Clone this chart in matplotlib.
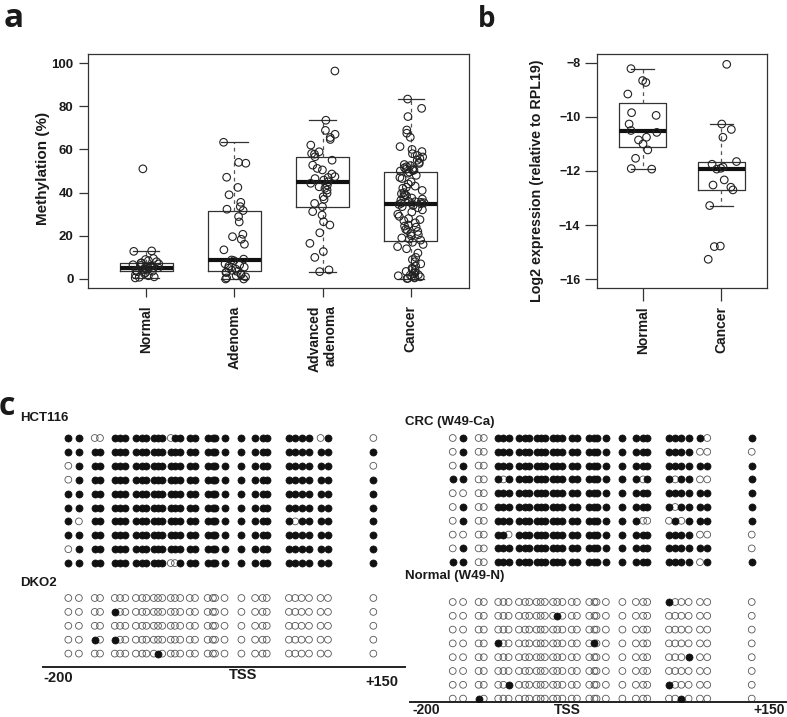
import numpy as np
import matplotlib.pyplot as plt

# ----------------------------
# Data
# ----------------------------
# a) methylation (%) by group
CAT_A = ["Normal", "Adenoma", "Advanced\nadenoma", "Cancer"]
normal_a = [0.5, 0.8, 1.0, 1.5, 2.0, 2.5, 3.0, 3.4, 3.6, 4.0, 4.2, 4.5, 4.8, 5.0, 5.1, 5.2,
            5.5, 5.8, 6.0, 6.3, 6.6, 7.0, 7.3, 7.5, 8.0, 8.5, 9.0, 9.5, 12.8, 13.0, 51.0]
adenoma_a = [63.3, 54.0, 53.6, 47.1, 42.4, 39.0, 35.5, 33.5, 32.3, 31.7, 28.9, 26.4, 20.7,
             19.6, 18.4, 16.1, 13.5, 9.2, 8.8, 8.5, 7.0, 6.5, 6.0, 5.5, 5.0, 4.5, 4.0, 3.5,
             3.2, 3.0, 2.5, 2.0, 1.5, 1.0, 0.5, 0.0, 0.0]
advanced_a = [96.3, 73.5, 68.8, 67.0, 65.5, 64.6, 62.0, 58.9, 58.1, 57.8, 56.6, 55.0, 52.7,
              51.2, 50.5, 48.6, 47.4, 47.0, 46.5, 45.8, 45.0, 44.3, 43.5, 42.7, 42.0, 41.2,
              39.7, 38.1, 36.9, 35.0, 33.5, 31.2, 29.6, 26.5, 25.0, 21.4, 16.5, 12.7, 10.0,
              4.2, 3.4]
cancer_a = [83.3, 79.0, 75.2, 69.0, 67.5, 65.6, 61.3, 60.0, 59.0, 58.0, 57.2, 56.5, 55.8,
            55.0, 54.0, 53.5, 53.0, 52.5, 52.0, 51.5, 51.0, 50.8, 50.5, 50.2, 50.0,
            49.5, 49.0, 48.0, 47.0, 46.5, 45.0, 44.0, 43.0, 42.5, 42.0, 41.0, 40.0, 39.5,
            39.0, 38.5, 38.0, 37.5, 37.0, 36.5, 36.0, 35.8, 35.5, 35.3, 35.1, 35.0,
            34.8, 34.5, 34.0, 33.5, 33.0, 32.0, 31.0, 30.0, 29.0, 28.0, 27.5, 27.0, 26.0,
            25.0, 24.5, 24.0, 23.0, 22.5, 22.0, 21.0, 20.5, 20.0, 19.0, 18.5, 18.0,
            17.0, 16.0, 15.0, 14.0, 12.0, 10.0, 9.0, 8.0, 7.0, 6.0, 5.0, 4.5, 4.0, 3.5,
            3.0, 2.5, 2.0, 1.8, 1.5, 1.2, 1.0, 0.8, 0.5, 0.3, 0.2]
YTICKS_A = [0, 20, 40, 60, 80, 100]

# b) log2 expression relative to RPL19
CAT_B = ["Normal", "Cancer"]
normal_b = [-8.21, -8.65, -8.72, -9.15, -9.84, -9.94, -10.26, -10.50, -10.57, -10.75,
            -10.85, -11.00, -11.22, -11.53, -11.91, -11.93]
cancer_b = [-8.05, -10.26, -10.46, -10.75, -11.65, -11.75, -11.85, -11.90, -11.93, -12.33,
            -12.52, -12.60, -12.70, -13.28, -14.78, -14.80, -15.27]
YTICKS_B = [-8, -10, -12, -14, -16]

# c) bisulfite clones: CpG positions (bp from TSS), 1 = methylated
CPG_BP = [-175, -165, -150, -145, -131, -126, -121, -111, -105, -101, -94, -90, -86,
          -78, -74, -69, -60, -55, -43, -38, -36, -27, -11, 2, 9, 13, 34, 40, 46, 53,
          64, 71, 114]
HCT116 = ["1 1 00 111 111111011 11 1111 1 111 1111 01 0",
          "1 1 11 111 111111111 11 1111 1 111 1111 11 1",
          "0 1 11 111 111111111 11 1111 1 111 1111 11 0",
          "0 1 11 111 111111111 11 1111 1 111 1111 11 1",
          "1 1 11 111 111111111 11 1111 1 111 1111 11 1",
          "1 1 11 111 111111111 11 1111 1 111 1111 11 1",
          "1 0 11 111 111111111 11 1111 1 111 1011 11 1",
          "1 1 11 111 111111111 11 1111 1 111 1111 11 1",
          "0 1 11 111 111111111 11 1111 1 111 1111 11 1",
          "1 1 11 111 111111001 11 1111 1 111 1111 11 1"]
DKO2 = ["0 0 00 000 000000000 00 0000 0 000 0000 00 0",
        "0 0 00 100 000000000 00 0000 0 000 0000 00 0",
        "0 0 00 000 000000000 00 0000 0 000 0000 00 0",
        "0 0 10 100 000000000 00 0000 0 000 0000 00 0",
        "0 0 00 000 000010000 00 0000 0 000 0000 00 0"]
CRC_W49 = ["0 1 00 111 111111111 11 1111 1 111 1111 10 1",
           "0 1 00 111 111111111 11 1111 1 111 1111 00 0",
           "0 1 00 111 111111111 11 1111 1 111 1111 11 1",
           "1 1 00 101 111111111 11 1111 1 101 1011 00 1",
           "0 0 00 111 111111111 11 1111 1 111 1111 11 1",
           "0 1 00 111 111111111 11 1111 1 111 1011 11 1",
           "0 1 00 111 111111111 11 1111 1 100 0101 11 1",
           "0 0 00 110 111111111 11 1111 1 111 1111 00 0",
           "0 1 00 111 111111111 11 1111 1 111 1111 11 0",
           "1 1 00 111 111111111 11 1111 1 111 1111 01 1"]
NORMAL_W49 = ["0 0 00 000 000000000 00 0000 0 000 1000 00 0",
              "0 0 00 000 000000010 00 0000 0 000 0000 00 0",
              "0 0 00 000 000000000 00 0000 0 000 0000 00 0",
              "0 0 00 100 000000000 00 0100 0 000 0000 00 0",
              "0 0 00 000 000000000 00 0000 0 000 0001 00 0",
              "0 0 00 000 000000000 00 0000 0 000 0000 00 0",
              "0 0 00 001 000000000 00 0000 0 000 1000 00 0",
              "0 0 10 000 000000000 00 0000 0 000 0010 00 0"]

# ----------------------------
# Style / layout helpers
# ----------------------------
plt.rcParams['font.family'] = ['Liberation Sans', 'DejaVu Sans']
plt.rcParams['font.weight'] = 'bold'
TXT = '#1a1a1a'
EDGE = '#333333'
W, H = 787, 717


def fx(x):
    return x / W


def fy(y):
    return 1 - y / H


def fivenum(v):
    # Tukey hinges, same as R's boxplot
    x = np.sort(np.asarray(v, float))
    n = len(x)
    n4 = np.floor((n + 3) / 2) / 2
    d = np.array([1, n4, (n + 1) / 2, n + 1 - n4, n]) - 1
    return 0.5 * (x[np.floor(d).astype(int)] + x[np.ceil(d).astype(int)])


def box_stats(v):
    x = np.asarray(v, float)
    _, q1, med, q3, _ = fivenum(x)
    iqr = q3 - q1
    return dict(med=med, q1=q1, q3=q3,
                whislo=x[x >= q1 - 1.5 * iqr].min(),
                whishi=x[x <= q3 + 1.5 * iqr].max(), fliers=[])


def box_strip(ax, groups, jit, seed):
    pos = np.arange(1, len(groups) + 1)
    ax.bxp([box_stats(g) for g in groups], positions=pos, widths=0.6,
           showfliers=False, manage_ticks=False,
           boxprops=dict(color=EDGE, lw=0.9),
           whiskerprops=dict(color='#555555', lw=0.9, linestyle=(0, (3, 3))),
           capprops=dict(color=EDGE, lw=0.9),
           medianprops=dict(color='#111111', lw=3.0, solid_capstyle='butt'))
    rng = np.random.default_rng(seed)
    for p, g in zip(pos, groups):
        xs = p + rng.uniform(-jit, jit, len(g))
        ax.scatter(xs, g, s=30, facecolors='none', edgecolors='#222222',
                   linewidths=0.8, zorder=3)
    for sp in ax.spines.values():
        sp.set_linewidth(0.9)
        sp.set_color(EDGE)


fig = plt.figure(figsize=(W / 100, H / 100), dpi=100)

# ----------------------------
# a) boxplot
# ----------------------------
ax_a = fig.add_axes([fx(88), fy(288), (469 - 88) / W, (288 - 54) / H])
box_strip(ax_a, [normal_a, adenoma_a, advanced_a, cancer_a], 0.15, 3)
ax_a.set_xlim(0.34, 4.66)
ax_a.set_ylim(-4.17, 104.17)
ax_a.set_yticks(YTICKS_A)
ax_a.set_xticks(np.arange(1, len(CAT_A) + 1))
ax_a.set_xticklabels(CAT_A, rotation=90, va='top', ha='center', multialignment='right')
ax_a.tick_params(axis='y', length=6.5, width=0.9, pad=4, labelsize=9.5, colors=EDGE,
                 labelcolor=TXT)
ax_a.tick_params(axis='x', length=6.5, width=0.9, pad=6, labelsize=10, colors=EDGE,
                 labelcolor=TXT)
ax_a.text(-0.118, 0.513, "Methylation (%)", transform=ax_a.transAxes, rotation=90,
          ha='center', va='center', fontsize=11, color=TXT)

# ----------------------------
# b) boxplot
# ----------------------------
ax_b = fig.add_axes([fx(597), fy(288), (767 - 597) / W, (288 - 54) / H])
box_strip(ax_b, [normal_b, cancer_b], 0.2, 11)
ax_b.set_xlim(0.42, 2.58)
ax_b.set_ylim(-16.333, -7.667)
ax_b.set_yticks(YTICKS_B)
ax_b.set_xticks(np.arange(1, len(CAT_B) + 1))
ax_b.set_xticklabels(CAT_B, rotation=90, va='top', ha='center')
ax_b.tick_params(axis='y', length=9, width=0.9, pad=3, labelsize=9, colors=EDGE,
                 labelcolor=TXT)
ax_b.tick_params(axis='x', length=9, width=0.9, pad=4, labelsize=10, colors=EDGE,
                 labelcolor=TXT)
ax_b.text(-0.353, 0.46, "Log2 expression (relative to RPL19)", transform=ax_b.transAxes,
          rotation=90, ha='center', va='center', fontsize=10.3, color=TXT)


# ----------------------------
# c) CpG methylation maps
# ----------------------------
def clone_axes(x0, x1, xlim, top, bottom, row0, step):
    ax = fig.add_axes([fx(x0), fy(bottom), (x1 - x0) / W, (bottom - top) / H])
    ax.set_xlim(*xlim)
    ax.set_ylim((bottom - row0) / step, (top - row0) / step)
    for k in ['top', 'left', 'right']:
        ax.spines[k].set_visible(False)
    ax.spines['bottom'].set_linewidth(1.4)
    ax.spines['bottom'].set_color('#222222')
    ax.set_xticks([])
    ax.set_yticks([])
    ax.patch.set_alpha(0)
    return ax


def draw_clones(ax, clones, y0):
    for i, row in enumerate(clones):
        meth = np.array([c == '1' for c in row.replace(' ', '')])
        xs = np.array(CPG_BP)
        ys = np.full(len(xs), y0 + i)
        ax.scatter(xs[~meth], ys[~meth], s=24, facecolors='none', edgecolors='#555555',
                   linewidths=0.6, zorder=2)
        ax.scatter(xs[meth], ys[meth], s=26, facecolors='#111111', edgecolors='#111111',
                   linewidths=0.5, zorder=3)


# left block: HCT116 / DKO2
ax_c1 = clone_axes(43, 405, (-199.0, 144.0), 405, 667, 438, 13.9)
draw_clones(ax_c1, HCT116, 0)
draw_clones(ax_c1, DKO2, (598 - 438) / 13.9)

# right block: CRC / Normal (W49)
ax_c2 = clone_axes(410, 787, (-216.3, 148.1), 405, 702, 438, 13.8)
draw_clones(ax_c2, CRC_W49, 0)
draw_clones(ax_c2, NORMAL_W49, (602 - 438) / 13.8)

for txt, x, y in [("HCT116", 20, 418), ("DKO2", 20, 583),
                  ("CRC (W49-Ca)", 405, 422), ("Normal (W49-N)", 405, 576)]:
    fig.text(fx(x), fy(y), txt, ha='left', va='center', fontsize=9.5, color=TXT)

for txt, x, y, ha, fs in [("-200", 43, 678, 'left', 10.5),
                          ("TSS", 243.5, 675, 'center', 10.5),
                          ("+150", 398, 682, 'right', 10.5),
                          ("-200", 412, 709.5, 'left', 10),
                          ("TSS", 567, 709.5, 'center', 10),
                          ("+150", 785, 710, 'right', 10)]:
    fig.text(fx(x), fy(y), txt, ha=ha, va='center', fontsize=fs, color=TXT)

# panel letters
for txt, x, y, size in [("a", 4, 27, 24), ("b", 478, 27, 20), ("c", -1, 415, 23)]:
    fig.text(fx(x), fy(y), txt, ha='left', va='baseline', fontsize=size,
             family=['Open Sans', 'DejaVu Sans'], weight='bold', color=TXT)

fig.savefig("out.png", dpi=100)
